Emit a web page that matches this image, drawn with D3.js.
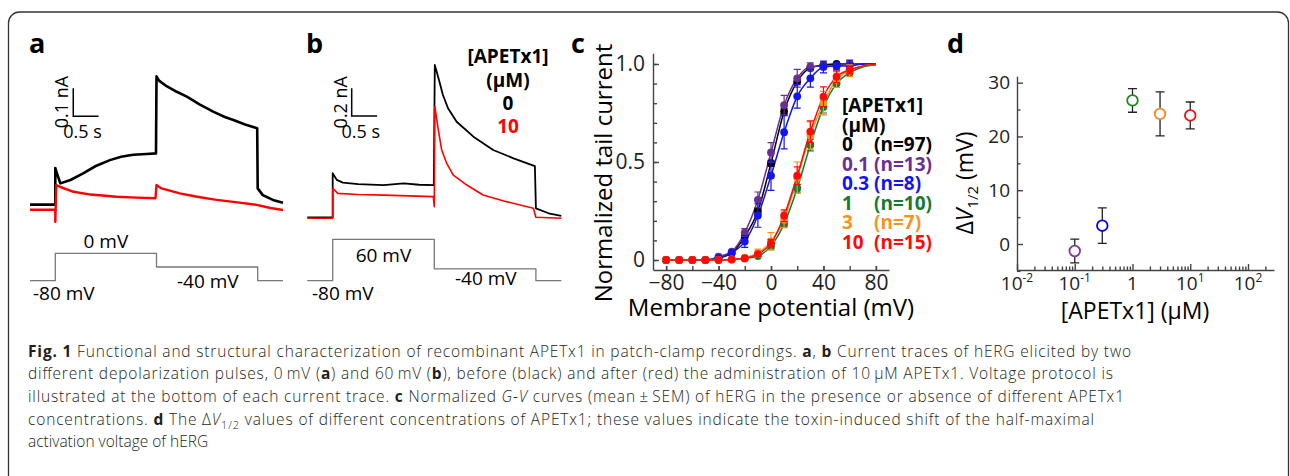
<!DOCTYPE html>
<html>
<head>
<meta charset="utf-8">
<script src="https://cdn.jsdelivr.net/npm/d3@7"></script>
<style>
body { margin: 0; background: #fff; }
svg text { font-family: "Open Sans", "Noto Sans", sans-serif; }
</style>
</head>
<body>
<script>
// ---------- data ----------

// panel a: current traces at the 0 mV pulse, [time (s), current (nA)]
var aBlack = [[0,0.012],[0.5,0.012],[0.5,0.143],[0.53,0.125],[0.6,0.088],[0.8,0.1],[1.05,0.124],[1.3,0.15],[1.58,0.171],
    [1.8,0.183],[2.04,0.19],[2.3,0.193],[2.49,0.195],[2.5,0.47],[2.55,0.455],[2.7,0.435],[2.9,0.415],[3.1,0.398],
    [3.35,0.37],[3.62,0.344],[3.85,0.325],[4.02,0.314],[4.25,0.298],[4.49,0.285],[4.5,0.07],[4.6,0.046],[4.8,0.029],[5.0,0.019]];
var aRed = [[0,-0.006],[0.5,-0.006],[0.5,-0.049],[0.52,0.082],[0.6,0.075],[0.86,0.058],[1.2,0.048],[1.71,0.04],
    [2.1,0.037],[2.48,0.035],[2.5,0.082],[2.6,0.07],[2.96,0.052],[3.3,0.04],[3.69,0.029],[4.1,0.02],[4.48,0.011],[4.75,0.0],[5.0,-0.007]];
// panel a: voltage protocol, [time (s), mV]
var aProtocol = [[0,-80],[0.5,-80],[0.5,0],[2.5,0],[2.5,-40],[4.5,-40],[4.5,-80],[5,-80]];

// panel b: current traces at the 60 mV pulse
var bBlack = [[0,0],[0.5,0],[0.5,0.318],[0.58,0.27],[0.7,0.25],[1.0,0.24],[1.5,0.232],[1.9,0.245],[2.2,0.235],[2.49,0.233],
    [2.51,1.10],[2.6,0.98],[2.67,0.883],[2.77,0.787],[2.94,0.69],[3.27,0.582],[3.66,0.486],[4.06,0.426],[4.48,0.37],
    [4.5,0.065],[4.75,0.029],[5.0,0.01]];
var bRed = [[0,-0.007],[0.5,-0.007],[0.5,0.21],[0.6,0.173],[1.0,0.165],[1.5,0.16],[2.0,0.155],[2.48,0.149],[2.5,0.077],
    [2.51,0.80],[2.58,0.63],[2.645,0.486],[2.744,0.39],[2.874,0.305],[3.14,0.233],[3.46,0.161],[3.92,0.113],[4.45,0.065],
    [4.5,0.0],[5.0,-0.007]];
var bProtocol = [[0,-80],[0.5,-80],[0.5,60],[2.5,60],[2.5,-40],[4.5,-40],[4.5,-80],[5,-80]];

// panel c: normalized G-V data
var gvVolts = [-80,-70,-60,-50,-40,-30,-20,-10,0,10,20,30,40,50,60];
var gvConc = ["0","0.1","0.3","1","3","10"];
var gvN = [97,13,8,10,7,15];
var gvColors = ["#000000","#6b2f91","#1414f0","#167a30","#f7941d","#ff0a0a"];
var gv0   = [0,0,0,0,0.01,0.035,0.12,0.25,0.494,0.758,0.91,0.98,0.995,1.0,1.0];
var gv01  = [0,0,0,0,0.017,0.043,0.14,0.307,0.549,0.79,0.927,0.986,0.99,0.99,1.0];
var gv03  = [0,0,0,0,0.01,0.037,0.094,0.227,0.43,0.652,0.835,0.927,0.985,0.99,0.99];
var gv1   = [0,0,0,0,0,0.002,0.008,0.02,0.072,0.184,0.366,0.587,0.78,0.90,0.955];
var gv3   = [0,0,0,0,0,0.003,0.012,0.035,0.095,0.205,0.42,0.635,0.80,0.92,0.965];
var gv10  = [0,0,0,0,0,0.003,0.009,0.03,0.085,0.226,0.43,0.655,0.833,0.935,0.97];
var sem0  = [0,0,0,0,0,0.01,0.01,0.015,0.015,0.015,0.01,0.01,0.01,0,0];
var sem01 = [0,0,0,0,0,0.01,0.02,0.04,0.05,0.05,0.045,0.02,0.01,0.01,0];
var sem03 = [0,0,0,0,0,0.01,0.03,0.06,0.075,0.085,0.06,0.045,0.03,0.02,0.03];
var sem1  = [0,0,0,0,0,0,0,0.01,0.015,0.015,0.02,0.03,0.03,0.02,0.01];
var sem3  = [0,0,0,0,0,0,0.01,0.02,0.045,0.04,0.08,0.07,0.06,0.04,0.03];
var sem10 = [0,0,0,0,0,0,0.01,0.01,0.02,0.03,0.045,0.055,0.05,0.03,0.02];
// fitted curves continue past the last point
var fitVolts = [70, 80];
var fitTails = [[1.0,1.0],[1.0,1.0],[1.0,1.0],[0.985,0.995],[0.99,0.997],[0.99,0.997]];

// panel d: shift of V1/2
var dConc = [0.1, 0.3, 1, 3, 10];
var dShift = [-1.3, 3.4, 26.7, 24.2, 23.9];
var dErr = [2.2, 3.3, 2.2, 4.1, 2.5];
var dColors = ["#7b3c9b","#0000ff","#1a8a1a","#f28522","#ee1111"];

// caption lines: [text, style]
var caption = [
  [["Fig. 1","b"],[" Functional and structural characterization of recombinant APETx1 in patch-clamp recordings. "],["a","b"],[", "],["b","b"],[" Current traces of hERG elicited by two"]],
  [["different depolarization pulses, 0\u2009mV ("],["a","b"],[") and 60\u2009mV ("],["b","b"],["), before (black) and after (red) the administration of 10\u2009\u03bcM APETx1. Voltage protocol is"]],
  [["illustrated at the bottom of each current trace. "],["c","b"],[" Normalized "],["G-V","i"],[" curves (mean\u2009\u00b1\u2009SEM) of hERG in the presence or absence of different APETx1"]],
  [["concentrations. "],["d","b"],[" The \u0394"],["V","i"],["1/2","sub"],[" values of different concentrations of APETx1; these values indicate the toxin-induced shift of the half-maximal"]],
  [["activation voltage of hERG"]]
];
var captionWidths = [1103, 1085, 1096, 1066, 0];

// ---------- drawing ----------
var svg = d3.select("body").append("svg")
    .attr("width", 1290)
    .attr("height", 476);

svg.append("rect").attr("width", 1290).attr("height", 476).attr("fill", "#fff");

// frame round the figure (open below the picture)
svg.append("rect")
    .attr("x", 8.5).attr("y", 12)
    .attr("width", 1280).attr("height", 520)
    .attr("rx", 11)
    .attr("fill", "none")
    .attr("stroke", "#333")
    .attr("stroke-width", 1.3);

function panelLetter(x, label) {
    svg.append("text")
        .attr("x", x).attr("y", 53)
        .attr("font-size", 27)
        .attr("font-weight", 700)
        .text(label);
}
panelLetter(29, "a");
panelLetter(306, "b");
panelLetter(571, "c");
panelLetter(947, "d");

function trace(g, data, x, y, color, width) {
    var line = d3.line()
        .x(function(d) { return x(d[0]); })
        .y(function(d) { return y(d[1]); });
    g.append("path")
        .datum(data)
        .attr("d", line)
        .attr("fill", "none")
        .attr("stroke", color)
        .attr("stroke-width", width)
        .attr("stroke-linejoin", "round");
}

function label(x, y, txt, size, anchor) {
    return svg.append("text")
        .attr("x", x).attr("y", y)
        .attr("font-size", size)
        .attr("text-anchor", anchor || "start")
        .text(txt);
}

// ----- panel a -----
var xa = d3.scaleLinear().domain([0, 5]).range([30, 283]);
var ya = d3.scaleLinear().domain([0, 0.1]).range([208, 180]);
var va = d3.scaleLinear().domain([-80, 0]).range([280.7, 253.3]);
var gA = svg.append("g");
trace(gA, aBlack, xa, ya, "#000", 2.6);
trace(gA, aRed, xa, ya, "#ff0000", 2.4);
trace(gA, aProtocol, xa, va, "#777", 1.3);
gA.append("path")
    .attr("d", "M" + xa(0.855) + "," + ya(0.428) + "V" + ya(0.328) + "H" + xa(1.355))
    .attr("fill", "none").attr("stroke", "#000").attr("stroke-width", 1.5);
svg.append("text")
    .attr("transform", "translate(" + (xa(0.855) - 5) + "," + ya(0.378) + ") rotate(-90)")
    .attr("font-size", 18).attr("text-anchor", "middle")
    .text("0.1 nA");
label(xa(0.655), 138, "0.5 s", 18);
label(xa(1.5), 248, "0 mV", 19, "middle");
label(33, 300, "-80 mV", 19);
label(177, 288, "-40 mV", 19);

// ----- panel b -----
var xb = d3.scaleLinear().domain([0, 5]).range([307.3, 561.3]);
var yb = d3.scaleLinear().domain([0, 0.2]).range([217.3, 189.6]);
var vb = d3.scaleLinear().domain([-80, 60]).range([280.7, 239.3]);
var gB = svg.append("g");
trace(gB, bBlack, xb, yb, "#000", 1.8);
trace(gB, bRed, xb, yb, "#ff0000", 1.6);
trace(gB, bProtocol, xb, vb, "#777", 1.3);
gB.append("path")
    .attr("d", "M" + xb(0.874) + "," + yb(0.931) + "V" + yb(0.731) + "H" + xb(1.374))
    .attr("fill", "none").attr("stroke", "#000").attr("stroke-width", 1.5);
svg.append("text")
    .attr("transform", "translate(" + (xb(0.874) - 5) + "," + yb(0.831) + ") rotate(-90)")
    .attr("font-size", 18).attr("text-anchor", "middle")
    .text("0.2 nA");
label(xb(0.674), 138, "0.5 s", 18);
label(xb(1.5), 262, "60 mV", 19, "middle");
label(312, 300, "-80 mV", 19);
label(455, 285, "-40 mV", 19);
label(508, 63, "[APETx1]", 19, "middle").attr("font-weight", 700);
label(508, 87, "(\u03bcM)", 19, "middle").attr("font-weight", 700);
label(508, 110, "0", 19, "middle").attr("font-weight", 700);
label(508, 133, "10", 19, "middle").attr("font-weight", 700).attr("fill", "#ff0000");

// ----- panel c -----
var xc = d3.scaleLinear().domain([-90, 90]).range([653, 889]);
var yc = d3.scaleLinear().domain([-0.05, 1.055]).range([269.8, 53.2]);
var gC = svg.append("g");

gC.append("g")
    .attr("transform", "translate(653,0)")
    .call(d3.axisLeft(yc).tickValues(d3.range(0, 1.01, 0.1)).tickSize(-4).tickSizeOuter(0).tickFormat(""))
    .call(function(g) { g.select(".domain").remove(); g.selectAll("text").remove(); });
gC.append("g")
    .attr("transform", "translate(653,0)")
    .call(d3.axisLeft(yc).tickValues([0, 0.5, 1]).tickSize(-6).tickSizeOuter(0).tickPadding(8)
        .tickFormat(function(d) { return d === 0 ? "0" : d3.format(".1f")(d); }));
gC.append("g")
    .attr("transform", "translate(0,270)")
    .call(d3.axisBottom(xc).tickValues(d3.range(-80, 81, 20)).tickSize(-4).tickSizeOuter(0).tickFormat(""))
    .call(function(g) { g.select(".domain").remove(); g.selectAll("text").remove(); });
gC.append("g")
    .attr("transform", "translate(0,270)")
    .call(d3.axisBottom(xc).tickValues([-80, -40, 0, 40, 80]).tickSize(-4).tickSizeOuter(0).tickPadding(5));
gC.selectAll(".tick text").attr("font-size", 21).attr("font-family", null).attr("fill", "#222");
gC.selectAll(".domain, .tick line").attr("stroke", "#444").attr("stroke-width", 1.4);

svg.append("text")
    .attr("transform", "translate(612,173) rotate(-90)")
    .attr("font-size", 24).attr("text-anchor", "middle")
    .text("Normalized tail current");
label(771, 316, "Membrane potential (mV)", 24, "middle");

var gvValues = [gv0, gv01, gv03, gv1, gv3, gv10];
var gvSem = [sem0, sem01, sem03, sem1, sem3, sem10];
var fitLine = d3.line()
    .x(function(d) { return xc(d[0]); })
    .y(function(d) { return yc(d[1]); })
    .curve(d3.curveMonotoneX);

gvValues.forEach(function(vals, i) {
    var pts = gvVolts.map(function(v, j) { return [v, vals[j]]; })
        .concat(fitVolts.map(function(v, j) { return [v, fitTails[i][j]]; }));
    gC.append("path").datum(pts)
        .attr("d", fitLine)
        .attr("fill", "none")
        .attr("stroke", gvColors[i])
        .attr("stroke-width", 1.5);
});
gvValues.forEach(function(vals, i) {
    var g = gC.append("g").attr("stroke", gvColors[i]).attr("fill", gvColors[i]);
    gvVolts.forEach(function(v, j) {
        var s = gvSem[i][j];
        if (s > 0.012) {
            var x = xc(v), y0 = yc(vals[j] - s), y1 = yc(vals[j] + s);
            g.append("path")
                .attr("d", "M" + x + "," + y0 + "V" + y1 + "M" + (x - 3.5) + "," + y0 + "H" + (x + 3.5) + "M" + (x - 3.5) + "," + y1 + "H" + (x + 3.5))
                .attr("fill", "none").attr("stroke-width", 1.2);
        }
    });
    g.selectAll("circle").data(gvVolts).enter().append("circle")
        .attr("cx", function(v) { return xc(v); })
        .attr("cy", function(v, j) { return yc(vals[j]); })
        .attr("r", 3.9)
        .attr("stroke", "none");
});

// legend
label(842, 112, "[APETx1]", 19).attr("font-weight", 700);
label(842, 132, "(\u03bcM)", 19).attr("font-weight", 700);
gvConc.forEach(function(c, i) {
    var y = 151 + i * 19.6;
    label(842, y, c, 19).attr("font-weight", 700).attr("fill", gvColors[i]);
    label(874, y, "(n=" + gvN[i] + ")", 19).attr("font-weight", 700).attr("fill", gvColors[i]);
});

// ----- panel d -----
var xd = d3.scaleLog().domain([0.01, 282]).range([1017, 1274]);
var yd = d3.scaleLinear().domain([-5, 31.2]).range([270.9, 76.2]);
var gD = svg.append("g");
var minor = [];
[0.01, 0.1, 1, 10, 100].forEach(function(dec) {
    for (var k = 2; k <= 9; k++) if (dec * k <= 282) minor.push(dec * k);
});
gD.append("g")
    .attr("transform", "translate(0,270)")
    .call(d3.axisBottom(xd).tickValues(minor).tickSize(-3.5).tickSizeOuter(0).tickFormat(""))
    .call(function(g) { g.select(".domain").remove(); g.selectAll("text").remove(); });
gD.append("g")
    .attr("transform", "translate(0,270)")
    .call(d3.axisBottom(xd).tickValues([0.01, 0.1, 1, 10, 100]).tickSize(-6).tickSizeOuter(0).tickFormat(""))
    .call(function(g) { g.selectAll("text").remove(); });
gD.append("g")
    .attr("transform", "translate(1017,0)")
    .call(d3.axisLeft(yd).tickValues([-5, 5, 15, 25]).tickSize(-3.5).tickSizeOuter(0).tickFormat(""))
    .call(function(g) { g.select(".domain").remove(); g.selectAll("text").remove(); });
gD.append("g")
    .attr("transform", "translate(1017,0)")
    .call(d3.axisLeft(yd).tickValues([0, 10, 20, 30]).tickSize(-6).tickSizeOuter(0).tickPadding(7));
gD.selectAll(".tick text").attr("font-size", 19).attr("font-family", null).attr("fill", "#222");
gD.selectAll(".domain, .tick line").attr("stroke", "#444").attr("stroke-width", 1.4);

// decade labels with superscripts
[[0.01, "-2"], [0.1, "-1"], [1, ""], [10, "1"], [100, "2"]].forEach(function(t) {
    var txt = svg.append("text")
        .attr("x", xd(t[0])).attr("y", 290)
        .attr("font-size", 19).attr("text-anchor", "middle").attr("fill", "#222");
    if (t[1] === "") {
        txt.text("1");
    } else {
        txt.append("tspan").text("10");
        txt.append("tspan").attr("font-size", 12).attr("dy", -8).text(t[1]);
    }
});

// error bars then open circles
dConc.forEach(function(c, i) {
    var x = xd(c), y0 = yd(dShift[i] - dErr[i]), y1 = yd(dShift[i] + dErr[i]);
    gD.append("path")
        .attr("d", "M" + x + "," + y0 + "V" + y1 + "M" + (x - 4.5) + "," + y0 + "H" + (x + 4.5) + "M" + (x - 4.5) + "," + y1 + "H" + (x + 4.5))
        .attr("fill", "none").attr("stroke", "#222").attr("stroke-width", 1.3);
});
gD.selectAll("circle.pt").data(dConc).enter().append("circle")
    .attr("class", "pt")
    .attr("cx", function(d) { return xd(d); })
    .attr("cy", function(d, i) { return yd(dShift[i]); })
    .attr("r", 5.3)
    .attr("fill", "#fff")
    .attr("stroke", function(d, i) { return dColors[i]; })
    .attr("stroke-width", 1.8);

var yt = svg.append("text")
    .attr("transform", "translate(973,183) rotate(-90)")
    .attr("font-size", 23).attr("text-anchor", "middle");
yt.append("tspan").text("\u0394");
yt.append("tspan").style("font-style", "italic").text("V");
yt.append("tspan").attr("font-size", 15).attr("dy", 5).text("1/2");
yt.append("tspan").attr("dy", -5).text(" (mV)");
label(1135, 319, "[APETx1] (\u03bcM)", 23, "middle");

// ----- caption -----
caption.forEach(function(segs, i) {
    var t = svg.append("text")
        .attr("x", 28).attr("y", 356.7 + i * 22.65)
        .attr("font-size", 15.5)
        .attr("fill", "#231f20")
        .style("font-weight", 300);
    if (captionWidths[i]) t.attr("textLength", captionWidths[i]).attr("lengthAdjust", "spacing");
    var shifted = false;
    segs.forEach(function(s) {
        var ts = t.append("tspan").text(s[0]);
        if (shifted) { ts.attr("dy", -4); shifted = false; }
        if (s[1] === "b") ts.style("font-weight", 700);
        if (s[1] === "i") ts.style("font-style", "italic");
        if (s[1] === "sub") { ts.attr("dy", 4).attr("font-size", 11); shifted = true; }
    });
});
</script>
</body>
</html>
